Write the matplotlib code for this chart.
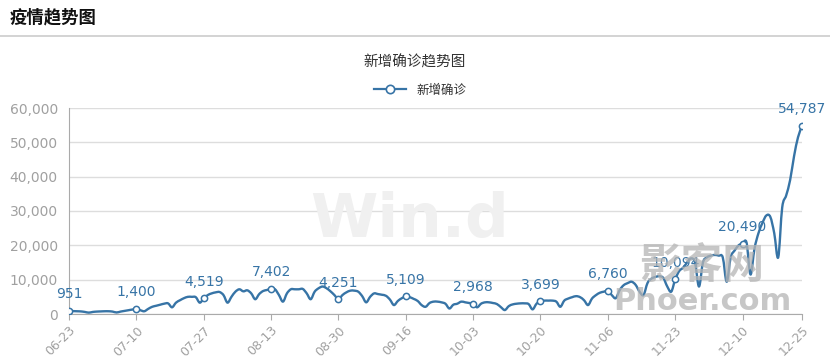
import matplotlib
matplotlib.use('Agg')
import matplotlib.pyplot as plt
from matplotlib.path import Path
from matplotlib.patches import PathPatch
from matplotlib.lines import Line2D
import pandas as pd
import numpy as np

plt.rcParams['font.family'] = ['Noto Sans CJK SC', 'DejaVu Sans']

page_title = "疫情趋势图"
chart_title = "新增确诊趋势图"
series_name = "新增确诊"

dates = list(pd.date_range('2022-06-23', '2022-12-25').strftime('%m-%d'))

values = [
    951, 850, 800, 750, 600, 400, 600, 700, 750, 800,
    800, 700, 450, 700, 900, 1100, 1300, 1400, 1100, 800,
    1500, 2100, 2400, 2700, 3000, 3100, 1950, 3300, 4000, 4600,
    5000, 5000, 4900, 3300, 4519, 5500, 6000, 6300, 6400, 5500,
    3300, 5000, 6500, 7200, 6600, 6900, 6000, 4300, 5800, 6700,
    7000, 7402, 7200, 5500, 3600, 6000, 7200, 7200, 7200, 7300,
    6000, 4300, 6500, 7500, 8000, 7500, 6600, 5500, 4251, 5500,
    6300, 6800, 6800, 6500, 5200, 3400, 5000, 6000, 5800, 5600,
    5300, 4200, 2600, 3800, 4600, 5109, 4900, 4400, 3800, 2600,
    2100, 3200, 3600, 3600, 3400, 3000, 1600, 2700, 3000, 3600,
    3400, 3200, 2968, 1950, 3000, 3400, 3400, 3200, 2900, 2000,
    1150, 2300, 2800, 3000, 3100, 3100, 2900, 1350, 3000, 3699,
    3900, 3900, 3900, 3600, 2100, 3900, 4500, 4900, 5200, 4900,
    4000, 2600, 4500, 5500, 6200, 6500, 6760, 5500, 4600, 7000,
    8400, 9000, 9400, 8500, 6500, 5500, 9000, 10300, 10800, 11000,
    10500, 8000, 6500, 10094, 12500, 13500, 15000, 16200, 15000, 8000,
    15000, 16500, 17000, 17200, 17000, 16500, 9400, 16500, 18500, 20000,
    20490, 20800, 11500, 19000, 23500, 26500, 28700, 28300, 23500, 16500,
    31000, 34500, 39000, 46000, 51500, 54787,
]

tick_idx = [0, 17, 34, 51, 68, 85, 102, 119, 136, 153, 170, 185]
tick_labels = ["06-23", "07-10", "07-27", "08-13", "08-30", "09-16",
               "10-03", "10-20", "11-06", "11-23", "12-10", "12-25"]
y_ticks = [0, 10000, 20000, 30000, 40000, 50000, 60000]

blue = '#3774a6'
grey_txt = '#a0a0a0'

fig = plt.figure(figsize=(8.3, 3.63), dpi=100)
fig.patch.set_facecolor('white')

fig.text(10 / 830, 1 - 17 / 363, page_title, fontsize=12.5, fontweight='bold',
         color='#111111', ha='left', va='center')
fig.add_artist(Line2D([0, 1], [1 - 36 / 363, 1 - 36 / 363], color='#cccccc', lw=1.2,
                      transform=fig.transFigure))
fig.text(0.5, 1 - 62 / 363, chart_title, fontsize=10.5, color='#333333',
         ha='center', va='center')

# faint chart watermark behind the plot
fig.text(410 / 830, 1 - 220 / 363, "Win.d", fontsize=44, fontweight='bold',
         color='#f0f0f0', ha='center', va='center', family=['DejaVu Sans'], zorder=0)

ax = fig.add_axes([69 / 830, 1 - 314 / 363, (802 - 69) / 830, (314 - 108) / 363])
ax.patch.set_alpha(0)
n = len(values)
xs = np.arange(n)

# smooth curve (Catmull-Rom style cubic Bezier through the data points)
pts = np.column_stack([xs, np.array(values, dtype=float)])
verts = [tuple(pts[0])]
codes = [Path.MOVETO]
s = 1 / 6
for i in range(n - 1):
    p0 = pts[i - 1] if i > 0 else pts[i]
    p1 = pts[i]
    p2 = pts[i + 1]
    p3 = pts[i + 2] if i + 2 < n else pts[i + 1]
    c1 = p1 + (p2 - p0) * s
    c2 = p2 - (p3 - p1) * s
    verts += [tuple(c1), tuple(c2), tuple(p2)]
    codes += [Path.CURVE4] * 3
ax.add_patch(PathPatch(Path(verts, codes), facecolor='none', edgecolor=blue,
                       lw=1.7, zorder=3, capstyle='round', joinstyle='round'))

mx = tick_idx
my = [values[i] for i in tick_idx]
ax.plot(mx, my, 'o', ms=4.5, mfc='white', mec=blue, mew=1.1, zorder=4)
for xi, yi in zip(mx, my):
    ax.annotate(f"{yi:,}", (xi, yi), xytext=(0, 7), textcoords='offset points',
                ha='center', va='bottom', fontsize=10, color=blue, zorder=5,
                family=['DejaVu Sans'])

ax.set_xlim(0, n - 1)
ax.set_ylim(0, 60000)
ax.set_yticks(y_ticks)
ax.set_yticklabels([f"{v:,}" for v in y_ticks], fontsize=10, color=grey_txt,
                   family=['DejaVu Sans'])
ax.set_xticks(tick_idx)
ax.set_xticklabels(tick_labels, rotation=45, ha='right', rotation_mode='anchor',
                   fontsize=9, color=grey_txt, family=['DejaVu Sans'])
ax.tick_params(axis='y', length=0, pad=8)
ax.tick_params(axis='x', length=4, color='#aaaaaa', pad=3)
ax.grid(axis='y', color='#dddddd', lw=1)
ax.set_axisbelow(True)
for sp in ['top', 'right']:
    ax.spines[sp].set_visible(False)
ax.spines['left'].set_color('#aaaaaa')
ax.spines['bottom'].set_color('#aaaaaa')

# legend
leg_handle = Line2D([], [], color=blue, lw=1.6, marker='o', ms=6, mfc='white',
                    mec=blue, mew=1.2)
fig.legend([leg_handle], [series_name], loc='center', bbox_to_anchor=(420 / 830, 1 - 90 / 363),
           frameon=False, fontsize=9, handlelength=2.6, labelcolor='#333333')

# site watermark overlay
fig.text(702 / 830, 1 - 266 / 363, "影客网", fontsize=30, fontweight='bold',
         color='#b5b5b5', alpha=0.75, ha='center', va='center', zorder=10)
fig.text(702 / 830, 1 - 302 / 363, "Phoer.com", fontsize=22, fontweight='bold',
         color='#b5b5b5', alpha=0.75, ha='center', va='center', family=['DejaVu Sans'], zorder=10)

fig.savefig('out.png', dpi=100, facecolor='white')
